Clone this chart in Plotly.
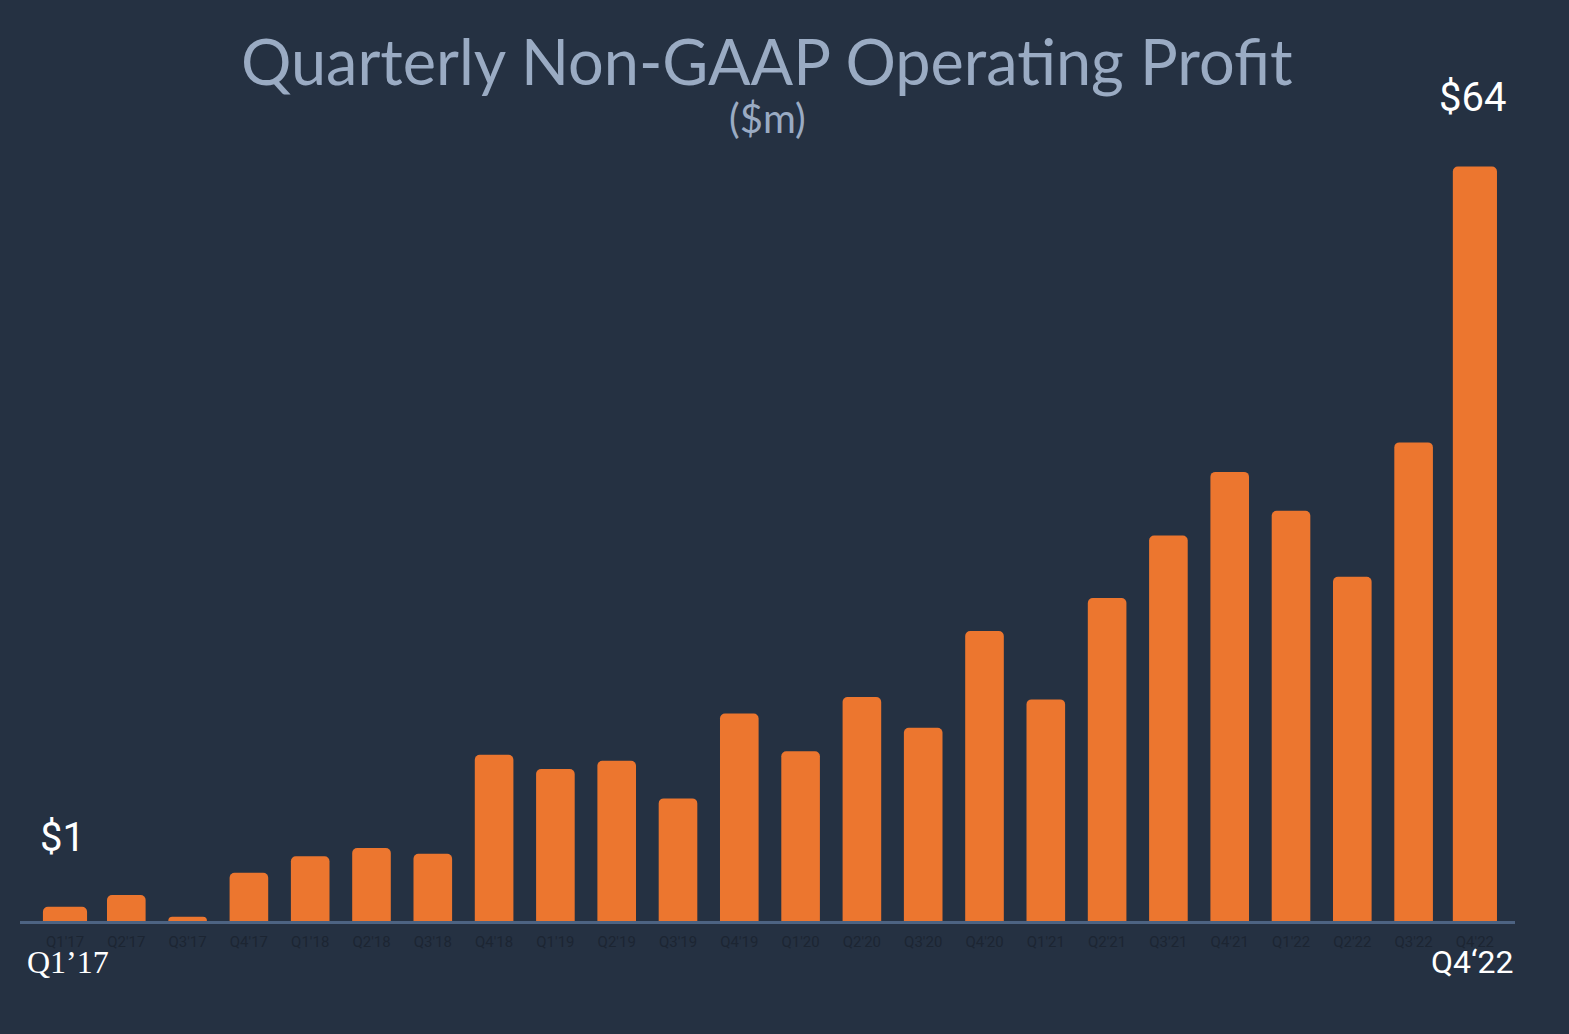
import plotly.graph_objects as go

quarters = ["Q1'17", "Q2'17", "Q3'17", "Q4'17",
            "Q1'18", "Q2'18", "Q3'18", "Q4'18",
            "Q1'19", "Q2'19", "Q3'19", "Q4'19",
            "Q1'20", "Q2'20", "Q3'20", "Q4'20",
            "Q1'21", "Q2'21", "Q3'21", "Q4'21",
            "Q1'22", "Q2'22", "Q3'22", "Q4'22"]
profit = [1.2, 2.2, 0.35, 4.1,
          5.5, 6.2, 5.7, 14.1,
          12.9, 13.6, 10.4, 17.6,
          14.4, 19.0, 16.4, 24.6,
          18.8, 27.4, 32.7, 38.1,
          34.8, 29.2, 40.6, 64.0]

BG = "#253142"
ORANGE = "#EC762F"

n = len(quarters)
bar_widths = [0.72] + [0.63] * (n - 2) + [0.72]

fig = go.Figure(go.Bar(
    x=list(range(n)), y=profit,
    marker=dict(color=ORANGE, line=dict(width=0), cornerradius=5),
    width=bar_widths, hoverinfo="skip",
))

fig.update_layout(
    width=1569, height=1034,
    paper_bgcolor=BG, plot_bgcolor=BG,
    margin=dict(l=20, r=54, t=143, b=113),
    showlegend=False,
    xaxis=dict(
        range=[-0.734, 23.654],
        tickmode="array", tickvals=list(range(n)), ticktext=quarters,
        tickfont=dict(family="Roboto", size=15, color="#1c2532"),
        ticklabelstandoff=5,
        showgrid=False, zeroline=False,
        showline=True, linecolor="#4d6382", linewidth=3,
        ticks="", ticklen=0,
    ),
    yaxis=dict(range=[0, 66], visible=False, showgrid=False, zeroline=False),
    annotations=[
        dict(text="Quarterly Non-GAAP Operating Profit", x=767, y=60,
             showarrow=False,
             font=dict(family="Lato", size=63, color="#9aabc3")),
        dict(text="($m)", x=767, y=118, showarrow=False,
             font=dict(family="Lato", size=40, color="#9aabc3")),
        dict(text="$1", x=62, y=837, showarrow=False,
             font=dict(family="Roboto", size=40, color="#ffffff")),
        dict(text="$64", x=1472, y=98, showarrow=False,
             font=dict(family="Roboto", size=40, color="#ffffff")),
        dict(text="Q1\u201917", x=68, y=962, showarrow=False,
             font=dict(family="Liberation Serif", size=32, color="#ffffff")),
        dict(text="Q4\u201822", x=1472, y=962, showarrow=False,
             font=dict(family="Roboto", size=32, color="#ffffff")),
    ],
)

# convert pixel positions for annotations to paper coordinates
pw = 1569 - 20 - 54
ph = 1034 - 143 - 113
for a in fig.layout.annotations:
    px, py = a.x, a.y
    a.xref = "paper"
    a.yref = "paper"
    a.x = (px - 20) / pw
    a.y = (1034 - 113 - py) / ph
    a.xanchor = "center"
    a.yanchor = "middle"

fig.write_html("out.html",
               config={"displayModeBar": False},
               post_script="document.body.style.margin='0';document.body.style.background='%s';" % BG)
